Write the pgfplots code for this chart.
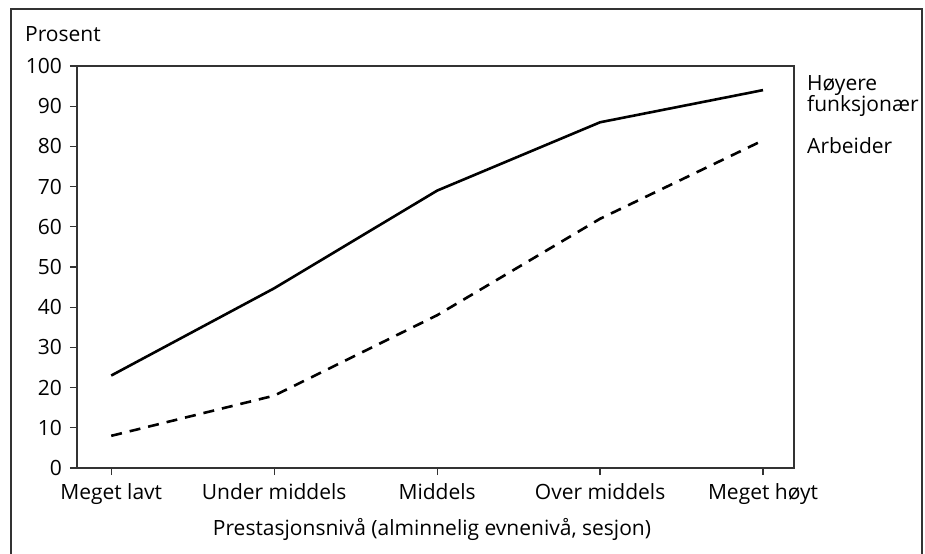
\documentclass[border=0pt]{standalone}
\usepackage{fontspec}
\setmainfont{Open Sans}
\usepackage{pgfplots}
\pgfplotsset{compat=1.18}
\definecolor{axgray}{HTML}{333333}
\begin{document}
\fontsize{21bp}{25bp}\selectfont
\begin{tikzpicture}
\useasboundingbox (0,0) rectangle (925bp,554bp);
\draw[line width=2.2bp, color=axgray] (11bp,-2bp) -- (11bp,545bp) -- (922bp,545bp) -- (922bp,-2bp);
\begin{axis}[
  at={(77bp,86bp)}, anchor=south west,
  scale only axis, width=717bp, height=402bp,
  xmin=-0.21, xmax=4.19, ymin=0, ymax=100,
  xtick={0,1,2,3,4},
  xticklabels={Meget lavt, Under middels, Middels, Over middels, Meget høyt},
  ytick={0,10,...,100},
  xtick pos=bottom, ytick pos=left,
  tick align=outside, major tick length=7bp,
  axis line style={line width=1.2bp, color=axgray},
  tick style={line width=1.2bp, color=axgray},
  every tick label/.style={font=\fontsize{21bp}{25bp}\selectfont},
  /pgf/number format/assume math mode=true,
  yticklabel style={xshift=-1bp},
  xticklabel style={yshift=-1bp},
  clip=false,
]
\addplot[line width=2.6bp, black] coordinates {(0,23) (1,44.7) (2,69) (3,86) (4,94)};
\addplot[line width=2.6bp, black, dash pattern=on 11bp off 8bp] coordinates {(0,8) (1,18) (2,38) (3,62) (4,81.5)};
\end{axis}
\node[anchor=base west, inner sep=0] at (25bp,512bp) {Prosent};
\node[anchor=base, inner sep=0] at (432bp,19bp) {Prestasjonsnivå (alminnelig evnenivå, sesjon)};
\node[anchor=base west, inner sep=0] at (807bp,463bp) {Høyere};
\node[anchor=base west, inner sep=0] at (807bp,442bp) {funksjonær};
\node[anchor=base west, inner sep=0] at (807bp,400bp) {Arbeider};
\end{tikzpicture}
\end{document}
